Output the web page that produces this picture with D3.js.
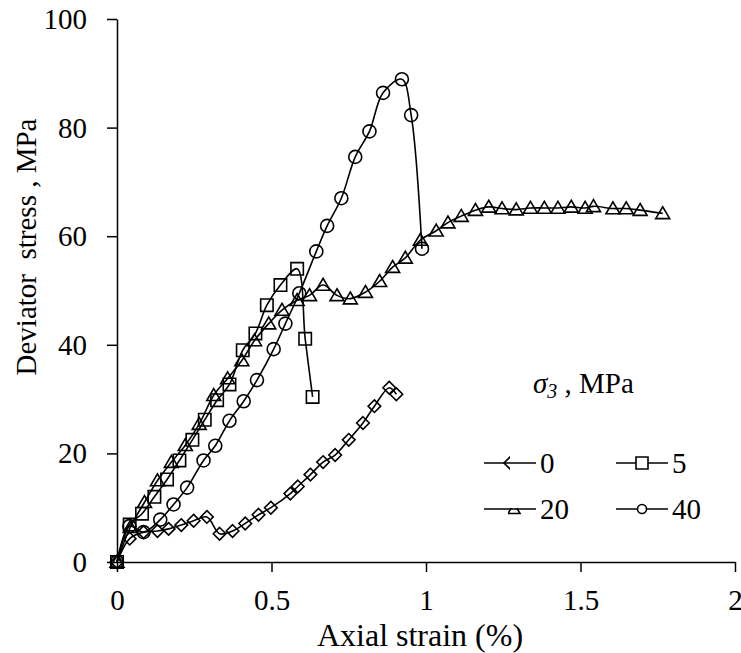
<html>
<head>
	<style>
		body { margin:0; padding:0; background:#fff; }
		svg text { font-family: "Liberation Serif", "Times New Roman", serif; fill:#000; }
	</style>
</head>
<body>
	<svg width="741" height="653" font-family="Liberation Serif"></svg>
	<script src="https://d3js.org/d3.v7.min.js"></script>
	<script>
		// sigma3 = 0 MPa (diamonds)
		var strain0 = [0, 0.041, 0.086, 0.131, 0.167, 0.208, 0.248, 0.291, 0.332, 0.374, 0.415, 0.458, 0.498, 0.561, 0.585, 0.626, 0.667, 0.706, 0.75, 0.796, 0.833, 0.881, 0.904];
		var stress0 = [0, 4.3, 5.5, 5.7, 6.1, 6.8, 7.6, 8.3, 5.2, 5.7, 7.1, 8.7, 10.0, 12.6, 13.9, 16.1, 18.4, 19.7, 22.5, 25.6, 28.7, 32.1, 30.9];
		// sigma3 = 5 MPa (squares)
		var strain5 = [0, 0.041, 0.081, 0.121, 0.162, 0.202, 0.244, 0.284, 0.324, 0.364, 0.407, 0.448, 0.485, 0.529, 0.583, 0.609, 0.633];
		var stress5 = [0, 6.9, 8.9, 12.0, 15.2, 18.7, 22.5, 26.2, 29.8, 32.7, 39.0, 42.1, 47.3, 51.0, 54.0, 41.1, 30.4];
		// sigma3 = 20 MPa (triangles)
		var strain20 = [0, 0.043, 0.089, 0.131, 0.176, 0.221, 0.266, 0.313, 0.358, 0.404, 0.445, 0.491, 0.534, 0.583, 0.623, 0.667, 0.712, 0.755, 0.804, 0.85, 0.892, 0.933, 0.982, 1.033, 1.071, 1.114, 1.16, 1.203, 1.246, 1.292, 1.338, 1.383, 1.427, 1.47, 1.515, 1.542, 1.605, 1.648, 1.693, 1.766];
		var stress20 = [0, 6.4, 11.0, 15.0, 18.4, 21.5, 25.4, 30.7, 33.8, 37.1, 40.8, 43.9, 46.4, 48.2, 49.1, 51.0, 49.1, 48.5, 49.7, 51.7, 54.3, 56.0, 59.3, 61.0, 62.5, 63.7, 64.8, 65.4, 65.1, 64.9, 65.2, 65.2, 65.2, 65.4, 65.2, 65.5, 65.1, 65.1, 64.8, 64.2];
		// sigma3 = 40 MPa (circles)
		var strain40 = [0, 0.04, 0.086, 0.14, 0.183, 0.227, 0.28, 0.318, 0.364, 0.41, 0.453, 0.507, 0.545, 0.59, 0.645, 0.68, 0.726, 0.771, 0.817, 0.861, 0.922, 0.952, 0.987];
		var stress40 = [0, 6.6, 5.5, 7.8, 10.6, 13.7, 18.7, 21.4, 26.0, 29.6, 33.5, 39.2, 43.9, 49.5, 57.2, 61.9, 67.0, 74.6, 79.3, 86.4, 88.9, 82.3, 57.7];

		var xTicks = [0, 0.5, 1, 1.5, 2];
		var yTicks = [0, 20, 40, 60, 80, 100];
		var seriesNames = ["0", "5", "20", "40"];
		var shapes = ["diamond", "square", "triangle", "circle"];

		var serif = "Liberation Serif";
		var svg = d3.select("svg");
		var x = d3.scaleLinear().domain([0, 2]).range([117, 735]);
		var y = d3.scaleLinear().domain([0, 100]).range([562, 19]);

		function shapePath(kind, s) {
			if (kind == "diamond") return "M0," + (-s) + "L" + s + ",0L0," + s + "L" + (-s) + ",0Z";
			if (kind == "square") return "M" + (-s) + "," + (-s) + "h" + (2*s) + "v" + (2*s) + "h" + (-2*s) + "Z";
			if (kind == "triangle") return "M0," + (-s*0.95) + "L" + s + "," + (s*0.75) + "L" + (-s) + "," + (s*0.75) + "Z";
			return d3.arc()({innerRadius: 0, outerRadius: s, startAngle: 0, endAngle: 2*Math.PI});
		}

		// axes
		var xAxis = d3.axisBottom(x).tickValues(xTicks).tickSize(10).tickSizeOuter(0).tickFormat(d3.format("~g"));
		var gx = svg.append("g").attr("transform", "translate(0," + y(0) + ")").call(xAxis)
			.attr("font-family", serif).attr("font-size", 29);
		gx.selectAll("text").attr("y", 48).attr("dy", 0);

		var yAxis = d3.axisLeft(y).tickValues(yTicks).tickSize(10).tickSizeOuter(0);
		var gy = svg.append("g").attr("transform", "translate(" + x(0) + ",0)").call(yAxis)
			.attr("font-family", serif).attr("font-size", 29);
		gy.selectAll("text").attr("x", -30).attr("dy", "0.33em");

		svg.selectAll(".domain, .tick line").attr("stroke", "#000").attr("stroke-width", 1.5);

		svg.append("text").attr("x", 420).attr("y", 646).attr("text-anchor", "middle")
			.attr("font-family", serif).attr("font-size", 32).text("Axial strain (%)");
		svg.append("text").attr("transform", "translate(36,247) rotate(-90)").attr("text-anchor", "middle")
			.attr("font-family", serif).attr("font-size", 29).attr("xml:space", "preserve").text("Deviator  stress , MPa");

		var allData = [[strain0, stress0], [strain5, stress5], [strain20, stress20], [strain40, stress40]];
		var line = d3.line().curve(d3.curveCatmullRom.alpha(0.5))
			.x(function(d){ return x(d[0]); }).y(function(d){ return y(d[1]); });

		allData.forEach(function(s, i) {
			var pts = s[0].map(function(v, j){ return [v, s[1][j]]; });
			var g = svg.append("g");
			g.append("path").datum(pts).attr("d", line)
				.attr("fill", "none").attr("stroke", "#000").attr("stroke-width", 1.6);
			var size = shapes[i] == "circle" ? 6.5 : (shapes[i] == "square" ? 6.2 : (shapes[i] == "triangle" ? 7 : 6.3));
			g.selectAll("path.mk").data(pts).enter().append("path").attr("class", "mk")
				.attr("d", shapePath(shapes[i], size))
				.attr("transform", function(d){ return "translate(" + x(d[0]) + "," + y(d[1]) + ")"; })
				.attr("fill", "none").attr("stroke", "#000").attr("stroke-width", 1.6);
		});

		// legend
		svg.append("text").attr("x", 533).attr("y", 393).attr("font-family", serif).attr("font-size", 29)
			.attr("xml:space", "preserve")
			.html('<tspan font-style="italic">σ</tspan><tspan font-style="italic" font-size="20" dy="5">3</tspan><tspan dy="-5"> , MPa</tspan>');

		var defs = svg.append("defs");
		defs.append("clipPath").attr("id", "clipLeft").append("rect").attr("x", -10).attr("y", -10).attr("width", 10).attr("height", 20);
		defs.append("clipPath").attr("id", "clipBR").append("rect").attr("x", -6).attr("y", -1).attr("width", 16).attr("height", 12);

		var legPos = [[484, 463], [616, 463], [484, 509], [616, 509]];
		seriesNames.forEach(function(name, i) {
			var lg = svg.append("g").attr("transform", "translate(" + legPos[i][0] + "," + legPos[i][1] + ")");
			lg.append("line").attr("x1", 0).attr("x2", 52).attr("stroke", "#000").attr("stroke-width", 1.6);
			var mk = lg.append("path").attr("transform", "translate(" + (i == 2 ? 30 : 26) + ",0)")
				.attr("fill", "none").attr("stroke", "#000").attr("stroke-width", 1.6);
			if (i == 0) mk.attr("d", shapePath("diamond", 6)).attr("clip-path", "url(#clipLeft)");
			else if (i == 1) mk.attr("d", shapePath("square", 6)).attr("fill", "#fff");
			else if (i == 2) mk.attr("d", shapePath("triangle", 6)).attr("clip-path", "url(#clipBR)");
			else mk.attr("d", shapePath("circle", 4.5)).attr("fill", "#fff");
			lg.append("text").attr("x", 56).attr("y", 0).attr("dy", "0.35em")
				.attr("font-family", serif).attr("font-size", 29).text(name);
		});
	</script>
</body>
</html>
